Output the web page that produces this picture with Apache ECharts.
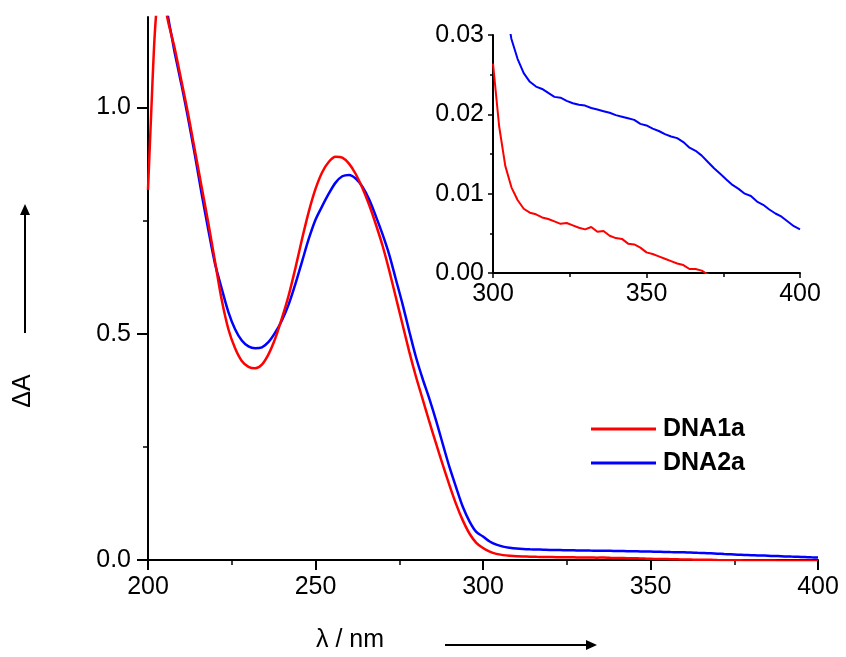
<!DOCTYPE html>
<html>
<head>
<meta charset="utf-8">
<script src="https://cdn.jsdelivr.net/npm/echarts@6/dist/echarts.min.js"></script>
<style>
  html, body { margin: 0; padding: 0; background: #fff; }
  #chart { width: 846px; height: 657px; }
</style>
</head>
<body>
<div id="chart"></div>
<script>
// main spectra, 200-298 nm
var wlRed = [200, 201, 202, 203, 204, 205, 206, 207, 208, 210, 212, 214, 216, 218, 220, 222, 224, 226, 228, 230,
  232, 234, 236, 238, 240, 242, 244, 246, 248, 250, 252, 254, 256, 258, 260, 262, 264, 266, 268, 270,
  272, 274, 276, 278, 280, 282, 284, 286, 288, 290, 292, 294, 296, 298];
var absRed = [0.818, 0.996, 1.16, 1.25, 1.28, 1.23, 1.19, 1.16, 1.13, 1.058, 0.985, 0.905, 0.825, 0.745, 0.66, 0.575, 0.51, 0.468, 0.44, 0.427,
  0.424, 0.432, 0.455, 0.49, 0.535, 0.585, 0.645, 0.71, 0.77, 0.82, 0.857, 0.88, 0.891, 0.889, 0.876, 0.853, 0.822, 0.785, 0.742, 0.695,
  0.64, 0.58, 0.52, 0.46, 0.405, 0.355, 0.305, 0.257, 0.21, 0.165, 0.123, 0.087, 0.058, 0.038];

var wlBlue = [204, 205, 206, 207, 208, 210, 212, 214, 216, 218, 220, 222, 224, 226, 228, 230, 232, 234, 236, 238,
  240, 242, 244, 246, 248, 250, 252, 254, 256, 258, 260, 262, 264, 266, 268, 270, 272, 274, 276, 278,
  280, 282, 284, 286, 288, 290, 292, 294, 296, 298];
var absBlue = [1.32, 1.26, 1.2, 1.16, 1.12, 1.05, 0.975, 0.895, 0.81, 0.73, 0.655, 0.6, 0.548, 0.51, 0.485, 0.472, 0.468, 0.47, 0.482, 0.503,
  0.53, 0.565, 0.61, 0.66, 0.71, 0.752, 0.782, 0.81, 0.834, 0.848, 0.851, 0.843, 0.825, 0.797, 0.76, 0.72, 0.675, 0.62, 0.565, 0.505,
  0.448, 0.4, 0.356, 0.308, 0.256, 0.205, 0.16, 0.117, 0.085, 0.062];

// tail 300-400 nm (also shown in the inset)
var wlTail = [300, 302, 304, 306, 308, 310, 312, 314, 316, 318, 320, 322, 324, 326, 328, 330, 332, 334, 336, 338,
  340, 342, 344, 346, 348, 350, 352, 354, 356, 358, 360, 362, 364, 366, 368, 370, 372, 374, 376, 378,
  380, 382, 384, 386, 388, 390, 392, 394, 396, 398, 400];
var tailRed = [0.0264, 0.0185, 0.0135, 0.0108, 0.0092, 0.0081, 0.0076, 0.0074, 0.007, 0.0068, 0.0065, 0.0062, 0.0063, 0.006, 0.0057, 0.0055, 0.0058, 0.0052, 0.0053, 0.0047,
  0.0044, 0.0043, 0.0037, 0.0036, 0.0032, 0.0026, 0.0024, 0.0021, 0.0018, 0.0015, 0.0012, 0.001, 0.0005, 0.0005, 0.0003, -0.0002, -0.0004, -0.0006, -0.0007, -0.0009,
  -0.001, -0.0011, -0.0012, -0.0013, -0.0014, -0.0015, -0.0016, -0.0017, -0.0018, -0.0019, -0.002];
var tailBlue = [0.052, 0.041, 0.034, 0.0295, 0.027, 0.0252, 0.0241, 0.0235, 0.0232, 0.0227, 0.0222, 0.0221, 0.0217, 0.0214, 0.0212, 0.0211, 0.0208, 0.0206, 0.0204, 0.0202,
  0.0199, 0.0197, 0.0195, 0.0193, 0.0188, 0.0186, 0.0182, 0.0179, 0.0175, 0.0172, 0.017, 0.0165, 0.0158, 0.0154, 0.0148, 0.014, 0.0132, 0.0125, 0.0118, 0.0111,
  0.0106, 0.01, 0.0097, 0.009, 0.0086, 0.008, 0.0075, 0.0071, 0.0065, 0.0059, 0.0055];

var yMajor = [0, 0.5, 1.0];
var yMinor = [0.25, 0.75];

var FONT = "'Liberation Sans', Arial, sans-serif";
var RED = '#ff0000', BLUE = '#0000ff';

function pairs(xs, ys) {
  return xs.map(function (x, i) { return [x, ys[i]]; });
}

var chart = echarts.init(document.getElementById('chart'), null, { renderer: 'canvas' });

var axLine = { show: true, lineStyle: { color: '#000', width: 2 } };
var tickLbl = { color: '#000', fontFamily: FONT, fontSize: 25 };

var option = {
  backgroundColor: '#fff',
  animation: false,
  grid: [
    { left: 148, right: 28, top: 17, bottom: 97 },
    { left: 493, right: 46, top: 35, bottom: 384 }
  ],
  legend: {
    data: ['DNA1a', 'DNA2a'],
    orient: 'vertical',
    left: 591,
    top: 416,
    padding: 0,
    icon: 'rect',
    itemWidth: 65,
    itemHeight: 3,
    itemGap: 8,
    textStyle: { color: '#000', fontFamily: FONT, fontSize: 25, fontWeight: 'bold', lineHeight: 26, padding: [0, 0, 0, 2] }
  },
  xAxis: [
    {
      gridIndex: 0, type: 'value', min: 200, max: 400, interval: 50,
      axisLine: axLine,
      axisTick: { show: true, length: 10, lineStyle: { color: '#000', width: 2 } },
      minorTick: { show: true, splitNumber: 2, length: 5, lineStyle: { color: '#000', width: 1.5 } },
      axisLabel: Object.assign({ margin: 15 }, tickLbl),
      splitLine: { show: false }
    },
    {
      gridIndex: 1, type: 'value', min: 300, max: 400, interval: 50,
      axisLine: axLine,
      axisTick: { show: true, length: 5, lineStyle: { color: '#000', width: 1.5 } },
      minorTick: { show: true, splitNumber: 2, length: 4, lineStyle: { color: '#000', width: 1.5 } },
      axisLabel: Object.assign({ margin: 9 }, tickLbl),
      splitLine: { show: false }
    }
  ],
  yAxis: [
    {
      gridIndex: 0, type: 'value', position: 'left', min: 0, max: 1.2,
      axisLine: axLine,
      axisTick: { show: true, length: 11, customValues: yMajor, lineStyle: { color: '#000', width: 2 } },
      axisLabel: Object.assign({ margin: 17, customValues: yMajor, formatter: function (v) { return v.toFixed(1); } }, tickLbl),
      splitLine: { show: false }
    },
    {
      gridIndex: 0, type: 'value', position: 'left', min: 0, max: 1.2,
      axisLine: { show: false },
      axisTick: { show: true, length: 5, customValues: yMinor, lineStyle: { color: '#000', width: 1.5 } },
      axisLabel: { show: false },
      splitLine: { show: false }
    },
    {
      gridIndex: 1, type: 'value', min: 0, max: 0.03, interval: 0.01,
      axisLine: axLine,
      axisTick: { show: true, length: 5, lineStyle: { color: '#000', width: 1.5 } },
      minorTick: { show: true, splitNumber: 2, length: 3, lineStyle: { color: '#000', width: 1.5 } },
      axisLabel: Object.assign({ margin: 9, formatter: function (v) { return v.toFixed(2); } }, tickLbl),
      splitLine: { show: false }
    }
  ],
  series: [
    {
      name: 'DNA1a', type: 'line', xAxisIndex: 0, yAxisIndex: 0, showSymbol: false, symbol: 'none',
      smooth: 0.3, clip: true, z: 3,
      lineStyle: { color: RED, width: 2.5 }, itemStyle: { color: RED },
      data: pairs(wlRed, absRed).concat(pairs(wlTail, tailRed))
    },
    {
      name: 'DNA2a', type: 'line', xAxisIndex: 0, yAxisIndex: 0, showSymbol: false, symbol: 'none',
      smooth: 0.3, clip: true, z: 2,
      lineStyle: { color: BLUE, width: 2.5 }, itemStyle: { color: BLUE },
      data: pairs(wlBlue, absBlue).concat(pairs(wlTail, tailBlue))
    },
    {
      name: 'DNA1a', type: 'line', xAxisIndex: 1, yAxisIndex: 2, showSymbol: false, symbol: 'none',
      clip: true,
      lineStyle: { color: RED, width: 2 }, itemStyle: { color: RED },
      data: pairs(wlTail, tailRed)
    },
    {
      name: 'DNA2a', type: 'line', xAxisIndex: 1, yAxisIndex: 2, showSymbol: false, symbol: 'none',
      clip: true,
      lineStyle: { color: BLUE, width: 2 }, itemStyle: { color: BLUE },
      data: pairs(wlTail, tailBlue)
    }
  ],
  graphic: [
    // x axis title + arrow
    {
      type: 'text', left: 316, top: 628,
      style: { text: 'λ / nm', fill: '#000', font: '25px ' + FONT }
    },
    {
      type: 'line', shape: { x1: 445, y1: 645, x2: 588, y2: 645 },
      style: { stroke: '#000', lineWidth: 2 }
    },
    {
      type: 'polygon', shape: { points: [[586, 640], [597, 645], [586, 650]] },
      style: { fill: '#000' }
    },
    // y axis title + arrow
    {
      type: 'text', x: 23, y: 391, rotation: Math.PI / 2,
      style: { text: 'ΔA', fill: '#000', font: '25px ' + FONT, align: 'center', verticalAlign: 'middle' }
    },
    {
      type: 'line', shape: { x1: 25, y1: 333, x2: 25, y2: 213 },
      style: { stroke: '#000', lineWidth: 2 }
    },
    {
      type: 'polygon', shape: { points: [[20, 215], [25, 204], [30, 215]] },
      style: { fill: '#000' }
    }
  ]
};

chart.setOption(option);
</script>
</body>
</html>
